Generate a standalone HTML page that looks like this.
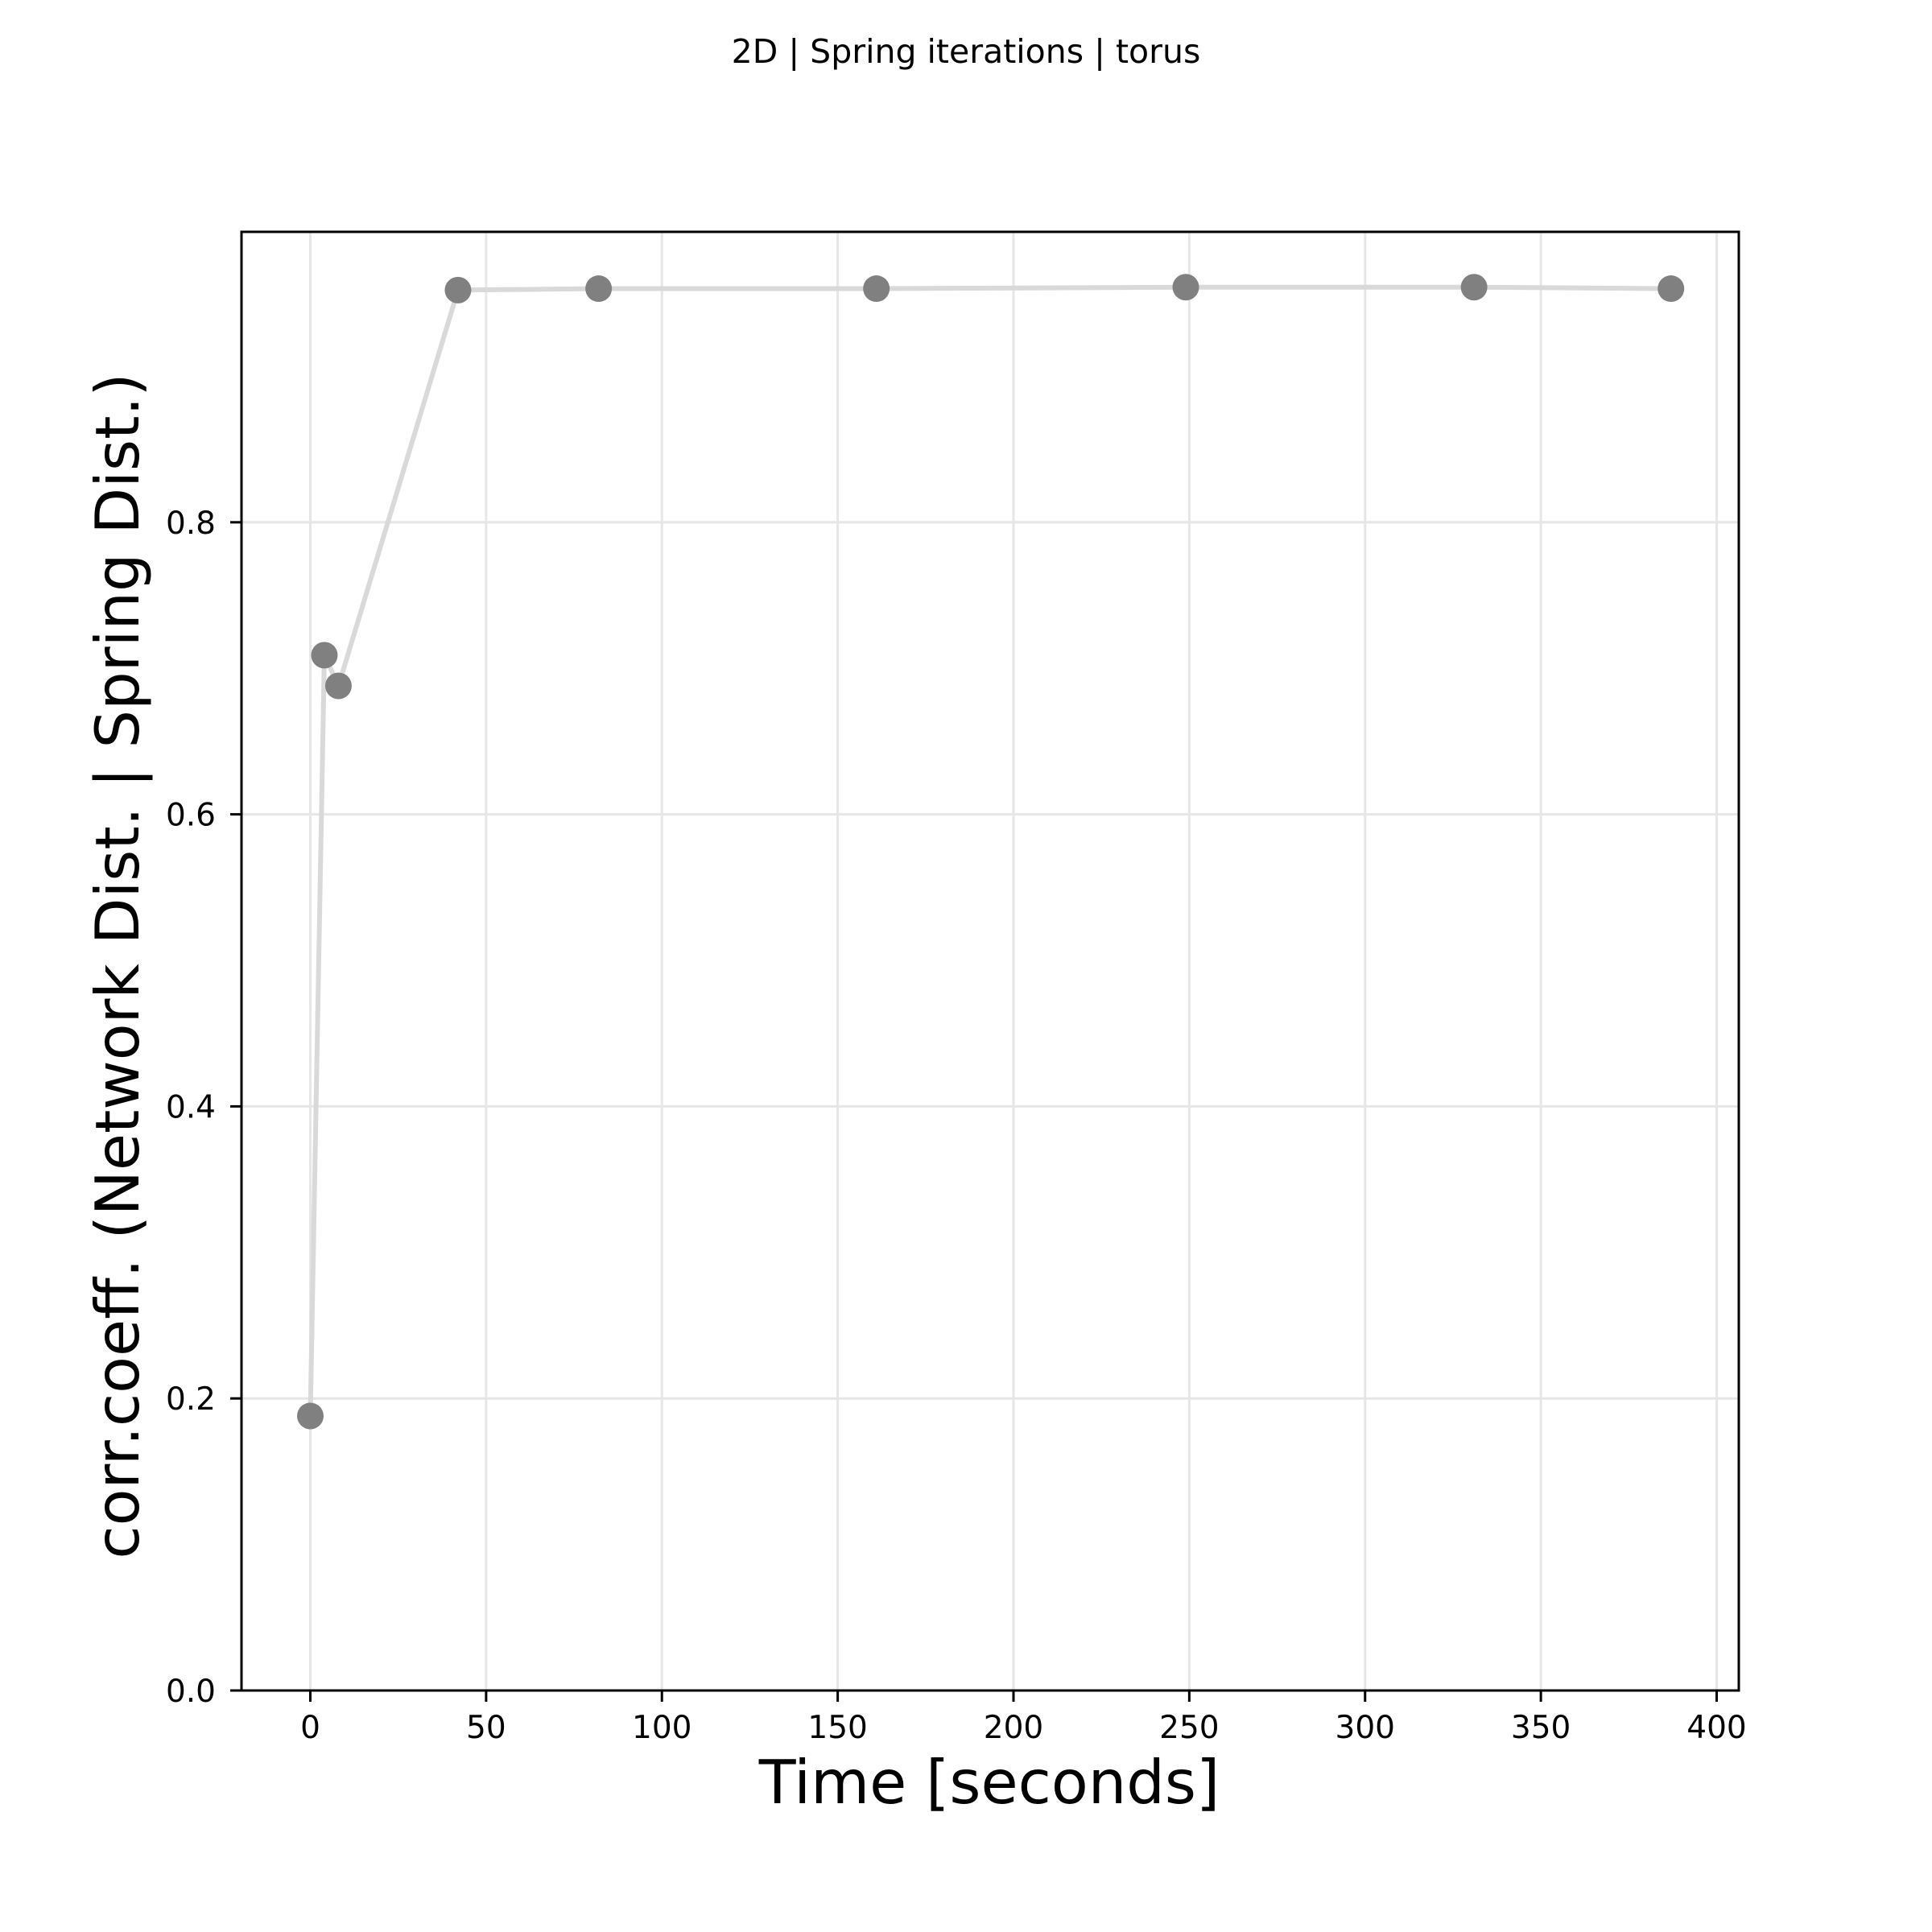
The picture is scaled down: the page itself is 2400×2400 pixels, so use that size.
<!DOCTYPE html>
<html><head><meta charset="utf-8"><style>
html,body{margin:0;padding:0;background:#fff;}
svg{display:block;font-family:"DejaVu Sans","Liberation Sans",sans-serif;}
</style></head><body>
<svg id="chart" width="2400" height="2400" viewBox="0 0 2400 2400" xmlns="http://www.w3.org/2000/svg">
<rect width="2400" height="2400" fill="#fff"/>
<text x="1200" y="78" font-size="41" text-anchor="middle">2D | Spring iterations | torus</text>
<g id="grid"></g>
<g id="series"></g>
<rect x="300" y="288" width="1860" height="1812" fill="none" stroke="#000" stroke-width="3"/>
<g id="ticks"></g>
<text x="1229" y="2240" font-size="75" text-anchor="middle">Time [seconds]</text>
<text x="0" y="0" font-size="75" text-anchor="middle" transform="translate(172,1200) rotate(-90)">corr.coeff. (Network Dist. | Spring Dist.)</text>
</svg>
<script>
const times = [0, 4, 8, 42, 82, 161, 249, 331, 387];
const corr = [0.188, 0.709, 0.688, 0.959, 0.960, 0.960, 0.961, 0.961, 0.960];
const xTicks = [0, 50, 100, 150, 200, 250, 300, 350, 400];
const yTicks = [0.0, 0.2, 0.4, 0.6, 0.8];
const yTickLabels = ["0.0", "0.2", "0.4", "0.6", "0.8"];

const NS = "http://www.w3.org/2000/svg";
const X0 = 385.5, XS = 4.3675, Y0 = 2100, YS = 1814;
function xs(v){ return X0 + v * XS; }
function ys(v){ return Y0 - v * YS; }
function mk(tag, attrs, parent){
  const e = document.createElementNS(NS, tag);
  for (const k in attrs) e.setAttribute(k, attrs[k]);
  parent.appendChild(e);
  return e;
}
const grid = document.getElementById('grid');
const ticks = document.getElementById('ticks');
const series = document.getElementById('series');

xTicks.forEach(t => {
  const g = mk('line', {x1: xs(t), x2: xs(t), y1: 288, y2: 2100, stroke: '#e6e6e6', 'stroke-width': 3}, grid);
  
  
  const tk = mk('line', {x1: xs(t), x2: xs(t), y1: 2100, y2: 2114, stroke: '#000', 'stroke-width': 3}, ticks);
  
  
  const lb = mk('text', {x: xs(t), y: 2159, 'font-size': 39, 'text-anchor': 'middle'}, ticks);
  lb.textContent = String(t);
  
  
});
yTicks.forEach((t, i) => {
  const g = mk('line', {x1: 300, x2: 2160, y1: ys(t), y2: ys(t), stroke: '#e6e6e6', 'stroke-width': 3}, grid);
  
  
  const tk = mk('line', {x1: 286, x2: 300, y1: ys(t), y2: ys(t), stroke: '#000', 'stroke-width': 3}, ticks);
  
  
  const lb = mk('text', {x: 268, y: ys(t) + 14, 'font-size': 39, 'text-anchor': 'end'}, ticks);
  lb.textContent = yTickLabels[i];
  
  
});
const pts = times.map((t, i) => xs(t) + ',' + ys(corr[i])).join(' ');
const line = mk('polyline', {points: pts, fill: 'none', stroke: '#d9d9d9', 'stroke-width': 6, 'stroke-linejoin': 'round'}, series);


times.forEach((t, i) => {
  const c = mk('circle', {cx: xs(t), cy: ys(corr[i]), r: 16.5, fill: '#808080'}, series);
  
  
});
</script>
</body></html>
